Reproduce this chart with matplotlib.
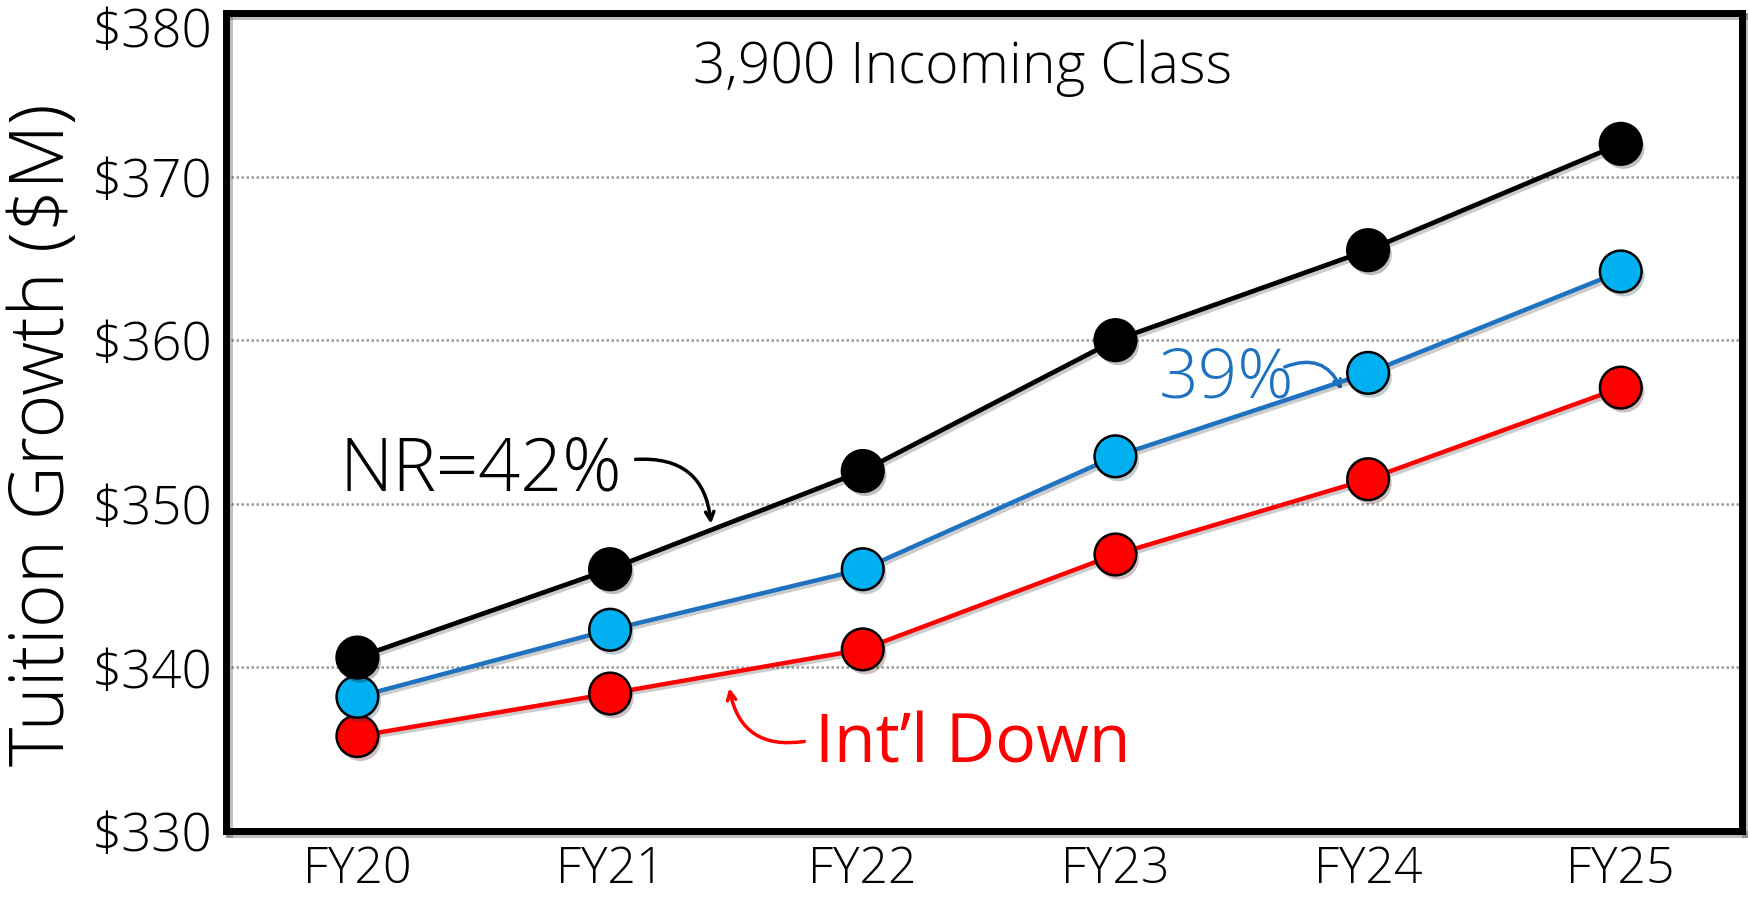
import matplotlib
matplotlib.use("Agg")
import matplotlib.pyplot as plt
import matplotlib.patheffects as pe
from matplotlib.font_manager import FontProperties
from matplotlib.transforms import offset_copy

years = ["FY20", "FY21", "FY22", "FY23", "FY24", "FY25"]
nr42 = [340.6, 346.0, 352.0, 360.0, 365.5, 372.0]
nr39 = [338.2, 342.3, 346.0, 352.9, 358.0, 364.2]
intl_down = [335.8, 338.4, 341.1, 346.9, 351.5, 357.1]
yticks = [330, 340, 350, 360, 370, 380]

LIGHT = dict(family="Open Sans", weight=300)
BLUE = "#1F72C0"

fig = plt.figure(figsize=(17.48, 9), dpi=100)
ax = fig.add_axes([0.1293, 0.0767, 0.8673, 0.9089])

line_fx = [pe.SimpleLineShadow(offset=(2, -2), alpha=0.2), pe.Normal()]
dot_fx = [pe.SimplePatchShadow(offset=(2, -3), alpha=0.25), pe.Normal()]
x = list(range(len(years)))
series = [(nr42, "black", "black", 3.4, 5),
          (nr39, BLUE, "#00B0F0", 3.2, 4),
          (intl_down, "#FF0000", "#FF0000", 3.2, 3)]
for vals, lc, fc, lw, z in series:
    ax.plot(x, vals, color=lc, lw=lw, zorder=z, path_effects=line_fx)
    ax.plot(x, vals, ls="none", marker="o", ms=30, mfc=fc, mec="black",
            mew=1.8, zorder=z + 0.5, path_effects=dot_fx)

ax.set_xlim(-0.52, 5.48)
ax.set_ylim(330, 380)
ax.set_xticks(x)
ax.set_xticklabels(years)
ax.set_yticks(yticks)
ax.set_yticklabels([f"${v}" for v in yticks])
for lab in ax.get_xticklabels():
    lab.set_fontproperties(FontProperties(size=36, **LIGHT))
for lab in ax.get_yticklabels():
    lab.set_fontproperties(FontProperties(size=38, **LIGHT))
ax.tick_params(length=0, pad=10)
# keep the top tick label inside the figure
top = ax.get_yticklabels()[-1]
top.set_transform(offset_copy(top.get_transform(), fig=fig, x=0, y=-14, units="dots"))

for v in yticks[1:-1]:
    ax.axhline(v, color="#9A9A9A", lw=1.8, ls=(0, (1, 1)), zorder=1)

for sp in ax.spines.values():
    sp.set_linewidth(5)
    sp.set_path_effects([pe.SimpleLineShadow(offset=(2, -2), alpha=0.25), pe.Normal()])

ax.set_ylabel("Tuition Growth ($M)", fontsize=54, **LIGHT)
ax.yaxis.set_label_coords(-0.095, 0.484)

ax.text(0.486, 0.932, "3,900 Incoming Class", transform=ax.transAxes,
        ha="center", va="center", fontsize=41, **LIGHT)

# callouts
ax.text(-0.07, 352.0, "NR=42%", ha="left", va="center", fontsize=53,
        color="black", **LIGHT)
ax.annotate("", xy=(1.40, 348.6), xytext=(1.09, 352.7),
            arrowprops=dict(arrowstyle="->,head_length=0.6,head_width=0.3",
                            color="black", lw=2.5,
                            connectionstyle="arc3,rad=-0.5"))

ax.text(3.17, 357.6, "39%", ha="left", va="center", fontsize=50,
        color=BLUE, **LIGHT)
ax.annotate("", xy=(3.90, 356.8), xytext=(3.66, 358.3),
            arrowprops=dict(arrowstyle="->,head_length=0.5,head_width=0.25",
                            color=BLUE, lw=2.5,
                            connectionstyle="arc3,rad=-0.5"))

ax.text(1.81, 335.3, "Int\u2019l Down", ha="left", va="center", fontsize=49,
        color="#FF0000", family="Open Sans")
ax.annotate("", xy=(1.47, 338.9), xytext=(1.78, 335.5),
            arrowprops=dict(arrowstyle="->,head_length=0.6,head_width=0.3",
                            color="#FF0000", lw=2.5,
                            connectionstyle="arc3,rad=-0.5"))

fig.savefig("out.png")
